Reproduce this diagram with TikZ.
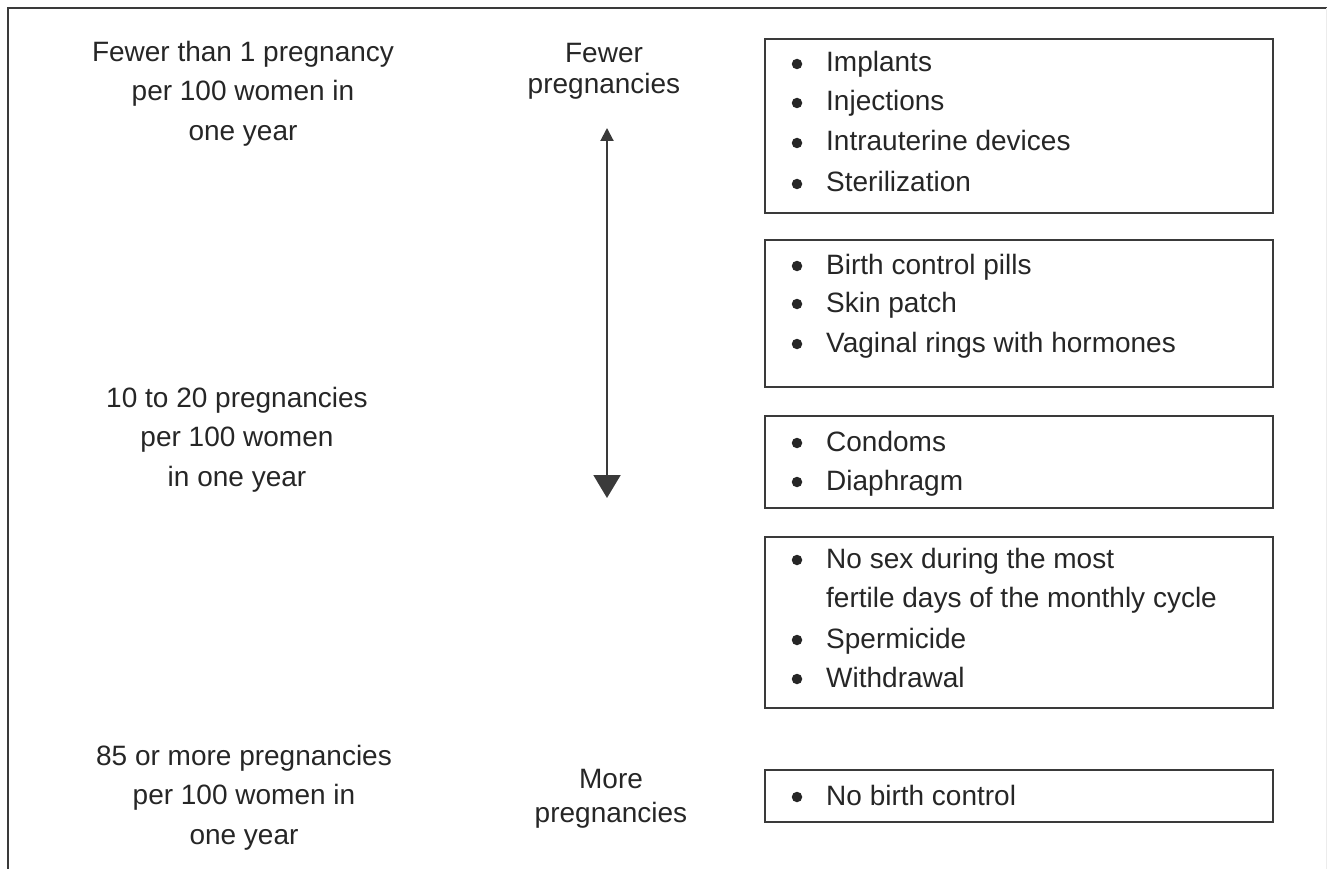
\documentclass[tikz,border=0pt]{standalone}
\usepackage{fontspec}
\setmainfont{Liberation Sans}
\usetikzlibrary{arrows.meta}
\definecolor{txt}{HTML}{262626}
\definecolor{ln}{HTML}{3A3A3A}
\tikzset{
  lbl/.style={inner sep=0pt, align=center, anchor=north, text=txt, font=\fontsize{28}{39.5}\selectfont},
  mid/.style={inner sep=0pt, align=center, anchor=north, text=txt},
  item/.style={inner sep=0pt, anchor=base west, text=txt, font=\fontsize{28}{39}\selectfont},
  itemml/.style={inner sep=0pt, anchor=north west, align=left, text=txt, font=\fontsize{28}{39}\selectfont},
  bul/.style={circle, fill=txt, inner sep=0pt, minimum size=10.5pt},
  methodbox/.style={draw=ln, line width=2pt},
}
\newcommand{\stt}{\rule{0pt}{21pt}}
\begin{document}
\begin{tikzpicture}[x=1pt,y=-1pt]
\useasboundingbox (0,0) rectangle (1327,869);
% frame
\draw[ln, line width=2pt] (8,869) -- (8,8) -- (1327,8);
\draw[gray!15, line width=1pt] (1326,8) -- (1326,869);

% left column
\node[lbl] (l1) at (243,40) {\stt Fewer than 1 pregnancy\\per 100 women in\\one year};
\node[lbl] (l2) at (237,386) {\stt 10 to 20 pregnancies\\per 100 women\\in one year};
\node[lbl] (l3) at (244,744) {\stt 85 or more pregnancies\\per 100 women in\\one year};

% middle column
\node[mid, font=\fontsize{28}{31.5}\selectfont] (m1) at (604,41) {\stt Fewer\\pregnancies};
\node[mid, font=\fontsize{28}{34.5}\selectfont] (m2) at (611,767) {\stt More\\pregnancies};

% arrow
\coordinate (at) at (607,128);
\coordinate (ab) at (607,498);
\draw[ln, line width=2pt, {Triangle[length=13pt,width=13pt]}-{Triangle[length=23pt,width=27pt]}] (at) -- (ab);

% boxes
\node[methodbox, minimum width=508pt, minimum height=174pt, inner sep=0pt] (b1) at (1019,126) {};
\node[methodbox, minimum width=508pt, minimum height=147pt, inner sep=0pt] (b2) at (1019,313.5) {};
\node[methodbox, minimum width=508pt, minimum height=92pt, inner sep=0pt] (b3) at (1019,462) {};
\node[methodbox, minimum width=508pt, minimum height=171pt, inner sep=0pt] (b4) at (1019,622.5) {};
\node[methodbox, minimum width=508pt, minimum height=52pt, inner sep=0pt] (b5) at (1019,796) {};

% box 1
\node[bul] (d11) at (797,64) {};
\node[item] (t11) at (826,72) {Implants};
\node[bul] (d12) at (797,103) {};
\node[item] (t12) at (826,111) {Injections};
\node[bul] (d13) at (797,143) {};
\node[item] (t13) at (826,151) {Intrauterine devices};
\node[bul] (d14) at (797,184) {};
\node[item] (t14) at (826,192) {Sterilization};

% box 2
\node[bul] (d21) at (797,266) {};
\node[item] (t21) at (826,274) {Birth control pills};
\node[bul] (d22) at (797,304) {};
\node[item] (t22) at (826,312) {Skin patch};
\node[bul] (d23) at (797,344) {};
\node[item] (t23) at (826,352) {Vaginal rings with hormones};

% box 3
\node[bul] (d31) at (797,443) {};
\node[item] (t31) at (826,451) {Condoms};
\node[bul] (d32) at (797,482) {};
\node[item] (t32) at (826,490) {Diaphragm};

% box 4
\node[bul] (d41) at (797,560) {};
\node[itemml] (t41) at (826,547) {\stt No sex during the most\\fertile days of the monthly cycle};
\node[bul] (d42) at (797,640) {};
\node[item] (t42) at (826,648) {Spermicide};
\node[bul] (d43) at (797,679) {};
\node[item] (t43) at (826,687) {Withdrawal};

% box 5
\node[bul] (d51) at (797,797) {};
\node[item] (t51) at (826,805) {No birth control};
\end{tikzpicture}
\end{document}
